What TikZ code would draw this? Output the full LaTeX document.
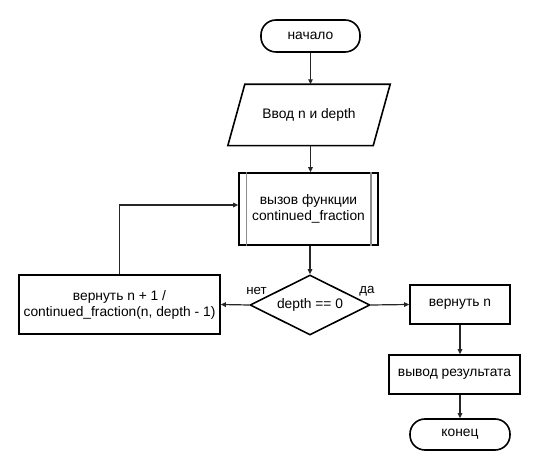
\documentclass[tikz,border=0pt]{standalone}
\usepackage{fontspec}
\setmainfont{Liberation Sans}
\usetikzlibrary{shapes.geometric,arrows.meta,calc}
\begin{document}
\begin{tikzpicture}[x=1pt,y=-1pt,
  every node/.style={font=\fontsize{13.8}{16}\selectfont, align=center, inner sep=0pt},
  boxline/.style={draw=black, line width=1.6pt},
  procbox/.style={boxline, rectangle},
  termbox/.style={boxline, rectangle, rounded corners=15pt},
  decbox/.style={boxline, diamond, aspect=2},
  flow/.style={draw=black!85, line width=1.2pt, -{Triangle[length=5pt,width=4.5pt]}},
  sublane/.style={draw=black!45, line width=1.4pt},
  edgelabel/.style={font=\fontsize{13.3}{15}\selectfont}
]
\useasboundingbox (0,0) rectangle (550,470);

% terminals
\node[termbox, minimum width=99pt, minimum height=32pt] (start) at (310.5,36) {начало};
\node[termbox, minimum width=100pt, minimum height=31pt] (finish) at (460,434.5) {конец};

% input (parallelogram drawn around an invisible frame)
\node[minimum width=162pt, minimum height=61pt] (inp) at (309,115) {Ввод n и depth};
\draw[boxline] ($(inp.north west)+(17,0)$) -- (inp.north east)
  -- ($(inp.south east)+(-17,0)$) -- (inp.south west) -- cycle;

% predefined process
\node[procbox, minimum width=139pt, minimum height=72pt] (sub) at (308.5,209) {вызов функции\\continued\_fraction};
\draw[sublane] ($(sub.north west)+(8,0)$) -- ($(sub.south west)+(8,0)$);
\draw[sublane] ($(sub.north east)+(-8,0)$) -- ($(sub.south east)+(-8,0)$);

% decision
\node[decbox, minimum width=120pt, minimum height=60pt] (dec) at (310,305) {depth == 0};

% branches
\node[procbox, minimum width=201pt, minimum height=59pt] (rec) at (119.5,304.5) {вернуть n + 1 /\\continued\_fraction(n, depth - 1)};
\node[procbox, minimum width=100pt, minimum height=39pt] (ret) at (460,304.5) {вернуть n};
\node[procbox, minimum width=131pt, minimum height=39pt] (out) at (454.5,374.5) {вывод результата};

% connectors
\draw[flow] (start.south) -- (start.south |- inp.north);
\draw[flow] (inp.south -| start.south) -- (start.south |- sub.north);
\draw[flow] (sub.south -| dec.north) -- (dec.north);
\draw[flow] (dec.east) -- (ret.west);
\draw[flow] (dec.west) -- (rec.east);
\draw[flow] (ret.south) -- (ret.south |- out.north);
\draw[flow] (ret.south |- out.south) -- (finish.north);
\draw[flow] (rec.north) |- ([yshift=4pt]sub.west);

% branch labels
\node[edgelabel] (nolbl) at (256.5,291) {нет};
\node[edgelabel] (yeslbl) at (367,291) {да};
\end{tikzpicture}
\end{document}
